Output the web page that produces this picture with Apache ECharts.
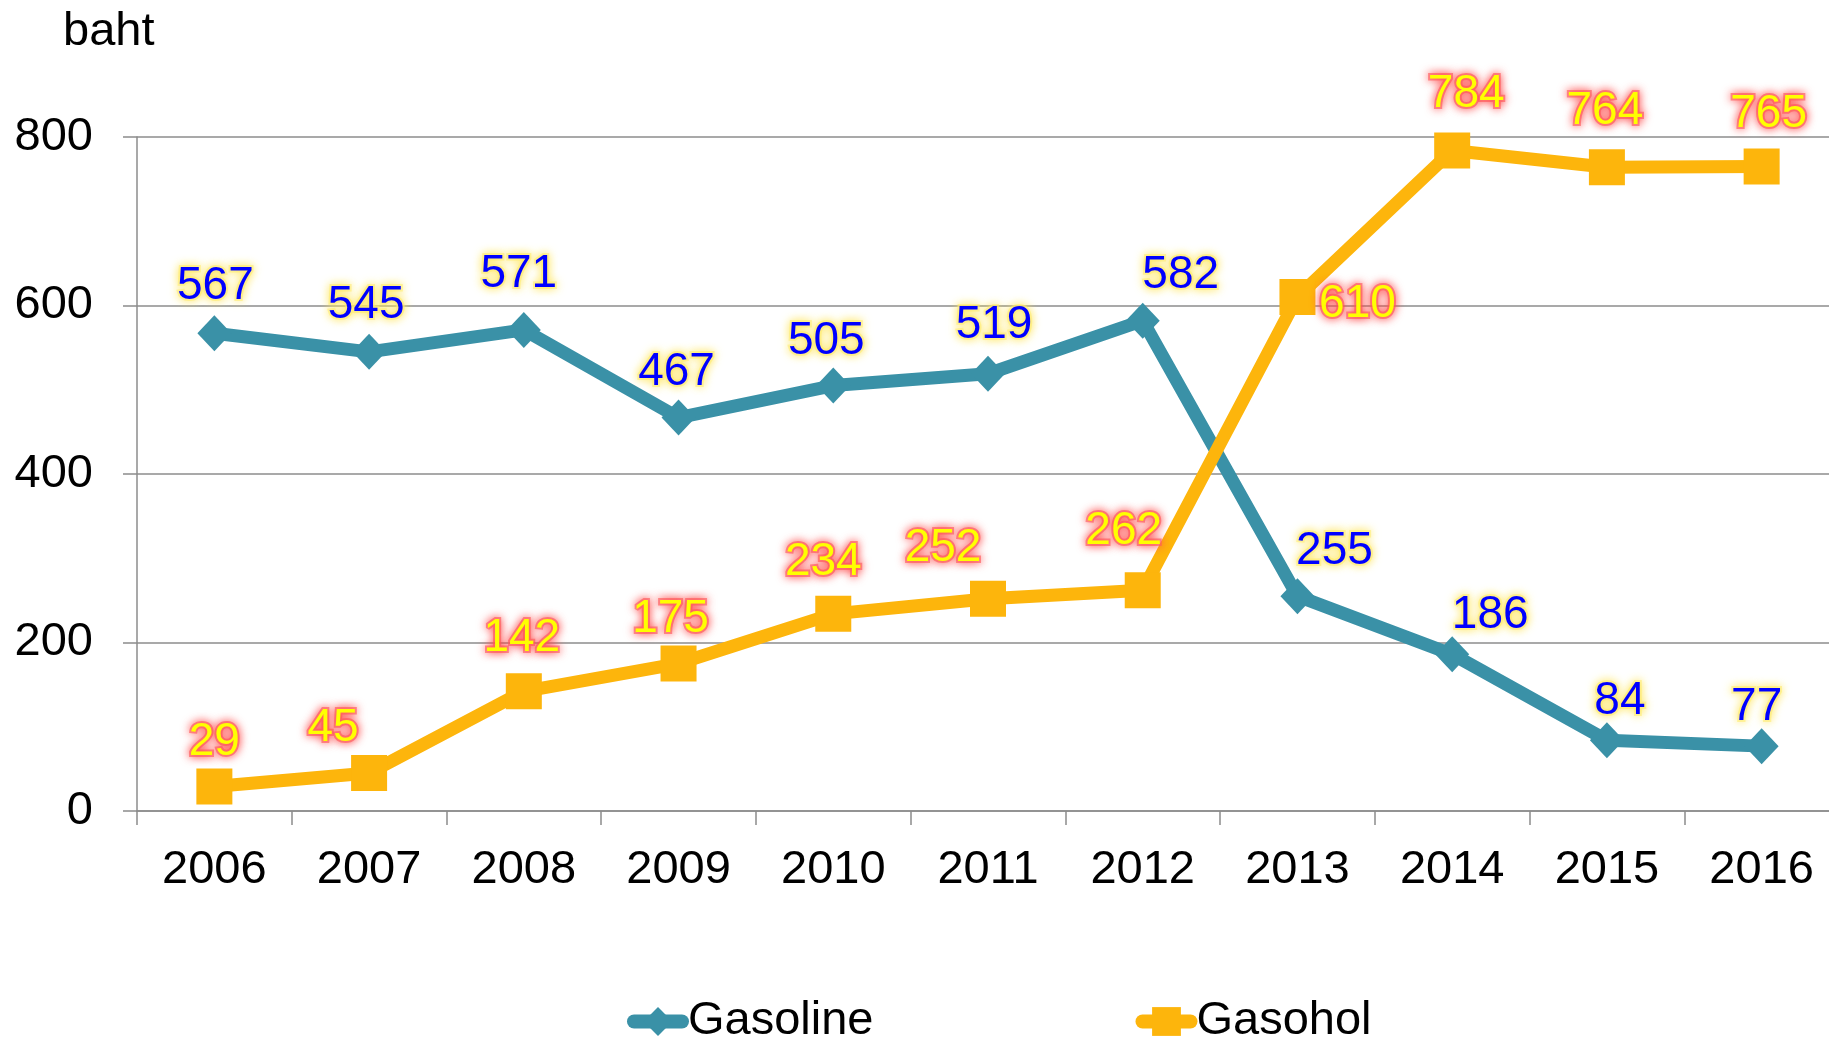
<!DOCTYPE html>
<html>
<head>
<meta charset="utf-8">
<script src="https://cdn.jsdelivr.net/npm/echarts@6/dist/echarts.min.js"></script>
<style>
html,body{margin:0;padding:0;background:#fff;overflow:hidden;width:1829px;height:1041px;}
#chart{width:1845px;height:1041px;}
</style>
</head>
<body>
<div id="chart"></div>
<script>
const years = ['2006','2007','2008','2009','2010','2011','2012','2013','2014','2015','2016'];
const gasoline = [567,545,571,467,505,519,582,255,186,84,77];
const gasohol = [29,45,142,175,234,252,262,610,784,764,765];
const yTicks = [0,200,400,600,800];
const unitLabel = 'baht';
// label nudges (pixels) relative to the default "top" placement
const gasolineLabelNudge = [[1,0],[-3,0],[-5,-9],[-2,2],[-7,3],[6,-1],[38,2],[37,2],[38,8],[13,8],[-5,8]];
const gasoholLabelNudge = [[0,3],[-36,2],[-2,-6],[-8,3],[-10,-5],[-45,-3],[-19,-12],[60,54],[14,-9],[-2,-9],[7,-5]];

const FONT = '"Liberation Sans", Arial, sans-serif';

function items(vals, nudges){
  return vals.map((v,i)=>({value:v, label:{offset:nudges[i]}}));
}

const chart = echarts.init(document.getElementById('chart'), null, {renderer:'canvas'});
chart.setOption({
  animation:false,
  backgroundColor:'#fff',
  title:{
    text:unitLabel, left:58, top:4,
    textStyle:{fontFamily:FONT, fontSize:47, fontWeight:'normal', color:'#000'}
  },
  grid:{left:137, top:137, width:1702, height:674},
  legend:{
    left:622, top:993,
    itemWidth:48, itemHeight:36, itemGap:262,
    lineStyle:{width:14, cap:'round'},
    textStyle:{fontFamily:FONT, fontSize:47, color:'#000', padding:[0,0,0,1]},
    data:['Gasoline','Gasohol']
  },
  xAxis:{
    type:'category', data:years, boundaryGap:true,
    axisLine:{lineStyle:{color:'#8c8c8c', width:1.5}},
    axisTick:{show:true, length:14, lineStyle:{color:'#8c8c8c', width:1.5}},
    axisLabel:{fontFamily:FONT, fontSize:47, color:'#000', margin:36, interval:0},
    splitLine:{show:false}
  },
  yAxis:{
    type:'value', min:yTicks[0], max:yTicks[yTicks.length-1], interval:200,
    axisLine:{show:true, lineStyle:{color:'#8c8c8c', width:1.5}},
    axisTick:{show:true, length:14, lineStyle:{color:'#8c8c8c', width:1.5}},
    axisLabel:{fontFamily:FONT, fontSize:47, color:'#000', margin:44},
    splitLine:{show:true, lineStyle:{color:'#8c8c8c', width:1.5}}
  },
  series:[
    {
      name:'Gasoline', type:'line', data:items(gasoline, gasolineLabelNudge),
      symbol:'diamond', symbolSize:[34,36], showAllSymbol:true,
      lineStyle:{color:'#3a91a7', width:13},
      itemStyle:{color:'#3a91a7'},
      label:{
        show:true, position:'top', distance:6,
        fontFamily:FONT, fontSize:46, color:'#0000ff',
        textBorderColor:'rgba(255,238,120,0.6)', textBorderWidth:4,
        textShadowColor:'rgba(255,230,90,1)', textShadowBlur:10
      },
      emphasis:{disabled:true}, z:2
    },
    {
      name:'Gasohol', type:'line', data:items(gasohol, gasoholLabelNudge),
      symbol:'rect', symbolSize:36, showAllSymbol:true,
      lineStyle:{color:'#fdb50c', width:13},
      itemStyle:{color:'#fdb50c'},
      label:{
        show:true, position:'top', distance:6,
        fontFamily:FONT, fontSize:46, color:'#ffff00',
        textBorderColor:'rgba(255,95,95,0.65)', textBorderWidth:4,
        textShadowColor:'rgba(255,70,70,1)', textShadowBlur:10
      },
      emphasis:{disabled:true}, z:3
    }
  ]
});
</script>
</body>
</html>
